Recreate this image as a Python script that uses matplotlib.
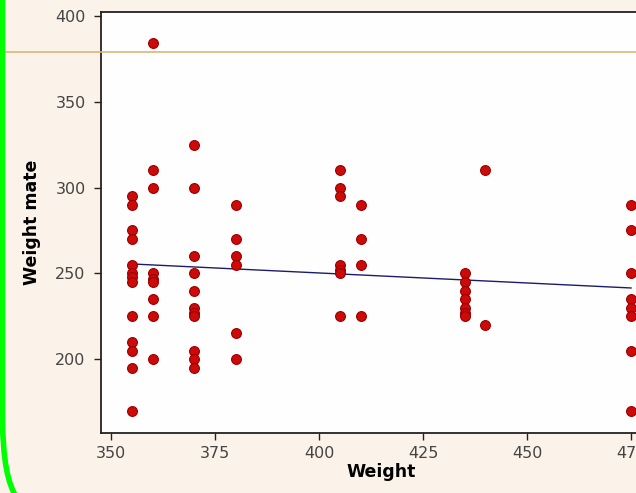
import matplotlib
matplotlib.use('Agg')
import matplotlib.pyplot as plt
from matplotlib.path import Path
from matplotlib.patches import PathPatch
import numpy as np

# Weight of each individual and the weight of its mate, grouped by weight
weight_groups = [355, 360, 370, 380, 405, 410, 435, 440, 475]
mate_weights = [
    [295, 290, 275, 270, 255, 250, 248, 245, 225, 210, 205, 195, 170],
    [384, 310, 300, 250, 247, 245, 235, 225, 200],
    [325, 300, 260, 250, 240, 230, 227, 225, 205, 200, 195],
    [290, 270, 260, 255, 215, 200],
    [310, 300, 295, 255, 252, 250, 225],
    [290, 270, 255, 225],
    [250, 245, 240, 235, 230, 227, 225],
    [310, 220],
    [290, 275, 250, 235, 230, 225, 205, 170],
]
# fitted line
fit_x = [355, 475]
fit_y = [255.5, 241.5]
x_ticks = [350, 375, 400, 425, 450, 475]
y_ticks = [200, 250, 300, 350, 400]

x = np.concatenate([[w] * len(m) for w, m in zip(weight_groups, mate_weights)])
y = np.concatenate(mate_weights)

W, H = 636, 493
fig = plt.figure(figsize=(W / 100, H / 100), dpi=100)
fig.patch.set_facecolor('#fbf3e9')

# axes placed in pixels; right side runs past the figure edge
ax = fig.add_axes([101 / W, (H - 433) / H, 560 / W, 421 / H])
ax.set_facecolor('#fefefe')
ax.set_xlim(347.6, 482.2)
ax.set_ylim(157, 402.3)

ax.scatter(x, y, s=50, facecolor='#cc0a0a', edgecolor='#9a0000', linewidth=0.8, zorder=3)
ax.plot(fit_x, fit_y, color='#1c1c6a', linewidth=1.0, zorder=2)

ax.set_xticks(x_ticks)
ax.set_yticks(y_ticks)
ax.tick_params(direction='out', length=5, width=1, color='#222222',
               labelsize=11.5, labelcolor='#444444')
ax.tick_params(axis='y', pad=6)
ax.tick_params(axis='x', pad=4)
for side in ['left', 'bottom', 'top']:
    ax.spines[side].set_color('#222222')
    ax.spines[side].set_linewidth(1.3)
ax.spines['right'].set_visible(False)

ax.set_xlabel('Weight', fontsize=12.5, fontweight='bold', labelpad=2)
ax.set_ylabel('Weight mate', fontsize=12.5, fontweight='bold', labelpad=10)

# thin orange rule across the slide
fig.add_artist(plt.Line2D([0, 1], [(H - 52) / H, (H - 52) / H], color='#d9b877',
                          linewidth=1.2, transform=fig.transFigure, zorder=5))

# green rounded border on the left
verts = [(2.5, -5), (2.5, 420), (3.0, 478), (17, 498)]
verts = [(vx / W, (H - vy) / H) for vx, vy in verts]
codes = [Path.MOVETO, Path.LINETO, Path.CURVE3, Path.CURVE3]
fig.add_artist(PathPatch(Path(verts, codes), facecolor='none', edgecolor='#00ff00',
                         linewidth=4, transform=fig.transFigure, zorder=6))

fig.savefig('out.png', dpi=100, facecolor=fig.get_facecolor())
